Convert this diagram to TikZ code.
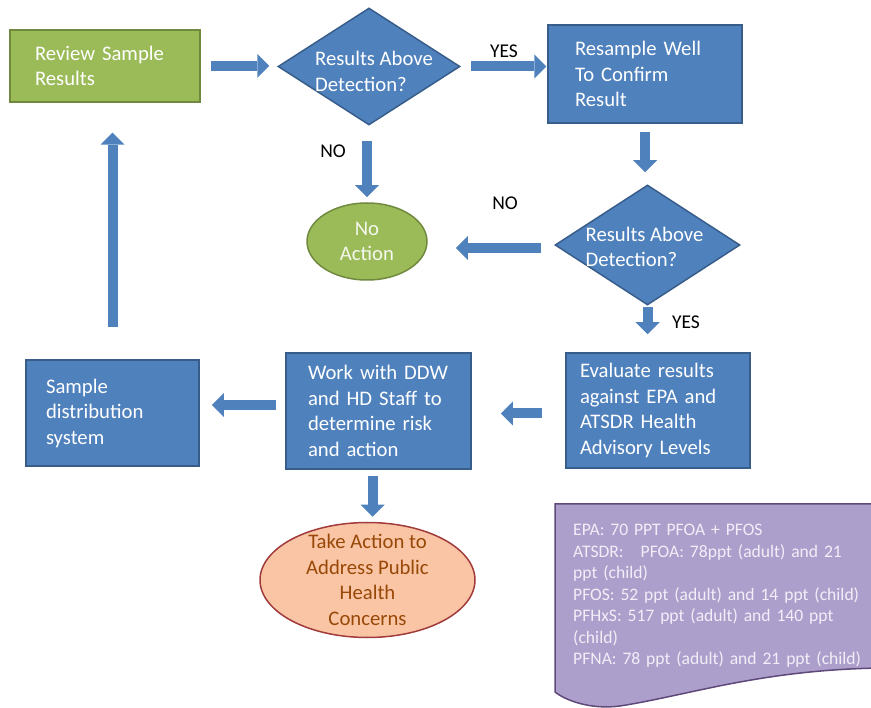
\documentclass[tikz,border=0pt]{standalone}
\usepackage{fontspec}
\setmainfont{Carlito}
\usetikzlibrary{shapes.geometric,arrows.meta}
\definecolor{boxblue}{HTML}{4F81BD}
\definecolor{edgeblue}{HTML}{385D8A}
\definecolor{boxgreen}{HTML}{9BBB59}
\definecolor{edgegreen}{HTML}{71893F}
\definecolor{peach}{HTML}{F9C5A5}
\definecolor{edgered}{HTML}{A23B3B}
\definecolor{textbrown}{HTML}{984807}
\definecolor{notepurple}{HTML}{AD9FCB}
\definecolor{edgepurple}{HTML}{5F497A}
\definecolor{notetext}{HTML}{F2EEF8}
\begin{document}
\begin{tikzpicture}[x=1pt,y=-1pt,
	boxfont/.style={font=\fontsize{20.7}{25.5}\selectfont},
	box/.style={boxfont,draw=edgeblue,fill=boxblue,line width=1.5pt,text=white,align=left,inner ysep=4pt},
	decision/.style={diamond,draw=edgeblue,fill=boxblue,line width=1.5pt,inner sep=0pt},
	dtext/.style={boxfont,text=white,align=left},
	flag/.style={font=\fontsize{19.5}{22}\selectfont,inner sep=0pt},
	blockarrow/.style={draw=boxblue,line width=10pt,-{Triangle[length=12pt,width=24pt,line width=0pt]}}]
\clip (0,0) rectangle (871,708);
\node[box,fill=boxgreen,draw=edgegreen,inner xsep=25pt,text width=140pt,minimum height=72pt] (review) at (105,66) {Review Sample\\Results};
\node[decision,minimum width=182pt,minimum height=117pt,label={[dtext,xshift=5pt,yshift=-5pt]center:{Results Above\\Detection?}}] (dia1) at (369,66.5) {};
\node[box,inner xsep=27pt,text width=140pt,minimum height=98pt] (resample) at (645,74) {Resample Well\\To Confirm\\Result};
\node[decision,minimum width=185pt,minimum height=120pt,label={[dtext,xshift=-3pt,yshift=-2pt]center:{Results Above\\Detection?}}] (dia2) at (647.5,245) {};
\node[ellipse,draw=edgegreen,fill=boxgreen,line width=1.5pt,minimum width=120pt,minimum height=77pt,inner sep=0pt,label={[boxfont,text=white!90!boxgreen,align=center]center:{No\\Action}}] (noaction) at (367,241.5) {};
\node[box,inner xsep=14pt,text width=156pt,minimum height=115pt] (evaluate) at (658,410.5) {Evaluate results\\against EPA and\\ATSDR Health\\Advisory Levels};
\node[box,inner xsep=22pt,text width=141pt,minimum height=116pt] (work) at (378.5,411) {Work with DDW\\and HD Staff to\\determine risk\\and action};
\node[box,inner xsep=20pt,text width=133pt,minimum height=106pt] (sample) at (112.5,413) {Sample\\distribution\\system};
\node[ellipse,draw=edgered,fill=peach,line width=1.5pt,minimum width=215pt,minimum height=115pt,inner sep=0pt,label={[boxfont,text=textbrown,align=center]center:{Take Action to\\Address Public\\Health\\Concerns}}] (takeaction) at (367.5,580) {};
\node[flag] (yes1) at (504,51) {YES};
\node[flag] (no1) at (333,151) {NO};
\node[flag] (no2) at (505,203) {NO};
\node[flag] (yes2) at (686,322) {YES};
\draw[blockarrow,shorten <=10pt,shorten >=8pt] (review.east) -- (review.east -| dia1.west);
\draw[blockarrow,shorten <=10pt,shorten >=1pt] (dia1.east) -- (dia1.east -| resample.west);
\draw[blockarrow,shorten <=8pt,shorten >=12pt] (resample.south) -- (resample.south |- dia2.north);
\draw[blockarrow,shorten <=15pt,shorten >=5pt] (dia1.south -| noaction.north) -- (noaction.north);
\draw[blockarrow,shorten <=13pt,shorten >=28pt] ([yshift=-3pt]dia2.west) -- ([yshift=-3pt]dia2.west -| noaction.east);
\draw[blockarrow,shorten <=1pt,shorten >=18pt] (dia2.south) -- (dia2.south |- evaluate.north);
\draw[blockarrow,shorten <=23pt,shorten >=29pt] ([yshift=-3pt]evaluate.west) -- ([yshift=-3pt]evaluate.west -| work.east);
\draw[blockarrow,shorten <=9pt,shorten >=12pt] ([yshift=6pt]work.west) -- ([yshift=6pt]work.west -| sample.east);
\draw[blockarrow,shorten <=32pt,shorten >=30pt] (sample.north) -- (sample.north |- review.south);
\draw[blockarrow,shorten <=6pt,shorten >=5pt] ([xshift=-6pt]work.south) -- ([xshift=-6pt]work.south |- takeaction.north);
\draw[draw=edgepurple,fill=notepurple,line width=1.5pt] (555,692) -- (555,504) -- (880,504) -- (880,668) .. controls (760,670) and (690,695) .. (620,706) .. controls (590,710) and (565,700) .. (555,692) -- cycle;
\node[anchor=north west,inner sep=0pt,text width=295pt,align=left,text=notetext,font=\fontsize{17.6}{21.5}\selectfont] (notes) at (573,524) {EPA: 70 PPT PFOA + PFOS\\ATSDR:\hspace{17pt}PFOA: 78ppt (adult) and 21\\ppt (child)\\PFOS: 52 ppt (adult) and 14 ppt (child)\\PFHxS: 517 ppt (adult) and 140 ppt\\(child)\\PFNA: 78 ppt (adult) and 21 ppt (child)};
\end{tikzpicture}
\end{document}
